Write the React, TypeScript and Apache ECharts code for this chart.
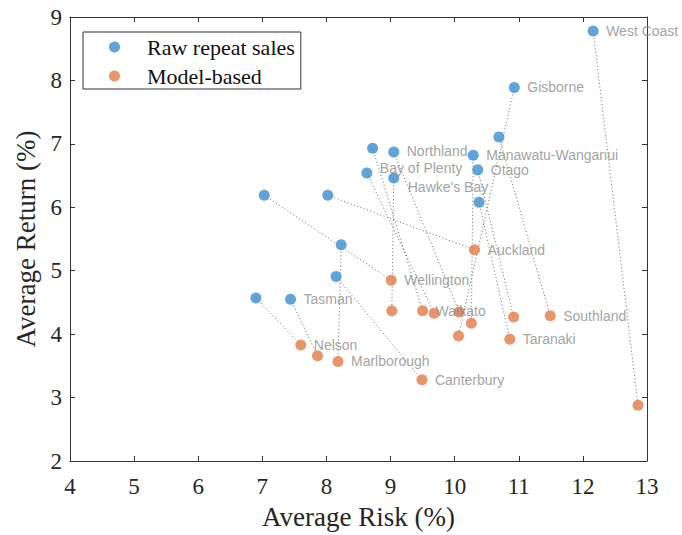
import React, { useEffect, useRef } from "react";
import * as echarts from "echarts";

// ---- data ----
const regions = [
  "West Coast", "Gisborne", "Southland", "Manawatu-Wanganui", "Otago", "Taranaki",
  "Waikato", "Northland", "Bay of Plenty", "Hawke's Bay", "Wellington", "Auckland",
  "Marlborough", "Canterbury", "Nelson", "Tasman",
];
const rawRisk = [12.16, 10.93, 10.69, 10.29, 10.36, 10.38, 8.72, 9.05, 8.63, 9.05, 7.03, 8.02, 8.23, 8.15, 6.9, 7.44];
const rawReturn = [8.78, 7.89, 7.11, 6.82, 6.59, 6.08, 6.93, 6.87, 6.54, 6.46, 6.19, 6.19, 5.41, 4.91, 4.57, 4.55];
const modelRisk = [12.86, 10.06, 11.49, 10.26, 10.92, 10.86, 9.5, 10.07, 9.68, 9.02, 9.01, 10.31, 8.18, 9.49, 7.6, 7.86];
const modelReturn = [2.88, 3.97, 4.29, 4.17, 4.27, 3.92, 4.37, 4.35, 4.33, 4.37, 4.85, 5.33, 3.57, 3.28, 3.83, 3.66];
// which of the two points carries the region's name
const labelAt = [
  "raw", "raw", "model", "raw", "raw", "model",
  "model", "raw", "raw", "raw", "model", "model",
  "model", "model", "model", "raw",
];
const seriesNames = ["Raw repeat sales", "Model-based"];
const xRange = [4, 13];
const yRange = [2, 9];
const axisTitles = ["Average Risk (%)", "Average Return (%)"];

// small label nudges (style only)
const labelNudge: Record<string, [number, number]> = {
  Northland: [0, -1],
  "Bay of Plenty": [0, -5],
  "Hawke's Bay": [1, 9],
};

const BLUE = "#3a8dd0";
const ORANGE = "#e27a47";
const AXIS = "#333333";
const SERIF = "'Liberation Serif', 'Times New Roman', serif";
const SANS = "'Liberation Sans', Arial, sans-serif";

export default function App() {
  const ref = useRef<HTMLDivElement>(null);

  useEffect(() => {
    if (!ref.current) return;
    const chart = echarts.init(ref.current, undefined, { renderer: "svg" });

    const mkPoints = (xs: number[], ys: number[], kind: string) =>
      regions.map((name, i) => ({
        name,
        value: [xs[i], ys[i]],
        label: {
          show: labelAt[i] === kind,
          offset: labelNudge[name] || [0, 0],
        },
      }));

    const baseAxisLine = { show: true, lineStyle: { color: AXIS, width: 1 } };
    const baseTick = { show: true, inside: true, length: 5, lineStyle: { color: AXIS, width: 1 } };

    const pointLabel = {
      position: "right",
      distance: 7.5,
      formatter: "{b}",
      fontFamily: SANS,
      fontSize: 14,
      lineHeight: 12,
      color: "#8a8a8a",
    };

    chart.setOption({
      animation: false,
      backgroundColor: "#ffffff",
      grid: { left: 70, right: 35, top: 17, bottom: 72, containLabel: false },
      legend: {
        orient: "vertical",
        left: 83,
        top: 32,
        padding: [4, 6, 2, 26],
        itemGap: 7,
        itemWidth: 11,
        itemHeight: 11,
        icon: "circle",
        borderColor: AXIS,
        borderWidth: 1,
        backgroundColor: "#ffffff",
        data: seriesNames,
        textStyle: {
          fontFamily: SERIF,
          fontSize: 22,
          lineHeight: 22,
          color: "#111111",
          padding: [0, 0, 0, 22],
        },
      },
      xAxis: [
        {
          type: "value",
          position: "bottom",
          min: xRange[0],
          max: xRange[1],
          interval: 1,
          name: axisTitles[0],
          nameLocation: "middle",
          nameGap: 42,
          nameTextStyle: { fontFamily: SERIF, fontSize: 27, color: "#262626" },
          axisLine: baseAxisLine,
          axisTick: baseTick,
          axisLabel: { fontFamily: SERIF, fontSize: 23, color: "#262626", margin: 14 },
          splitLine: { show: false },
        },
        {
          type: "value",
          position: "top",
          min: xRange[0],
          max: xRange[1],
          interval: 1,
          axisLine: baseAxisLine,
          axisTick: baseTick,
          axisLabel: { show: false },
          splitLine: { show: false },
        },
      ],
      yAxis: [
        {
          type: "value",
          position: "left",
          min: yRange[0],
          max: yRange[1],
          interval: 1,
          name: axisTitles[1],
          nameLocation: "middle",
          nameRotate: 90,
          nameGap: 26,
          nameTextStyle: { fontFamily: SERIF, fontSize: 27, color: "#262626" },
          axisLine: baseAxisLine,
          axisTick: baseTick,
          axisLabel: { fontFamily: SERIF, fontSize: 23, color: "#262626", margin: 8 },
          splitLine: { show: false },
        },
        {
          type: "value",
          position: "right",
          min: yRange[0],
          max: yRange[1],
          interval: 1,
          axisLine: baseAxisLine,
          axisTick: baseTick,
          axisLabel: { show: false },
          splitLine: { show: false },
        },
      ],
      series: [
        {
          type: "lines",
          coordinateSystem: "cartesian2d",
          xAxisIndex: 0,
          yAxisIndex: 0,
          silent: true,
          z: 1,
          lineStyle: { color: "#6a6a6a", width: 1, type: [1, 2.5], opacity: 1 },
          data: regions.map((name, i) => ({
            name,
            coords: [
              [rawRisk[i], rawReturn[i]],
              [modelRisk[i], modelReturn[i]],
            ],
          })),
        },
        {
          name: seriesNames[0],
          type: "scatter",
          xAxisIndex: 0,
          yAxisIndex: 0,
          z: 3,
          symbol: "circle",
          symbolSize: 11,
          itemStyle: { color: BLUE },
          label: pointLabel,
          data: mkPoints(rawRisk, rawReturn, "raw"),
        },
        {
          name: seriesNames[1],
          type: "scatter",
          xAxisIndex: 0,
          yAxisIndex: 0,
          z: 3,
          symbol: "circle",
          symbolSize: 11,
          itemStyle: { color: ORANGE },
          label: pointLabel,
          data: mkPoints(modelRisk, modelReturn, "model"),
        },
      ],
    });

    return () => chart.dispose();
  }, []);

  return (
    <div
      ref={ref}
      style={{ position: "absolute", left: 0, top: 0, width: 682, height: 535 }}
    />
  );
}
